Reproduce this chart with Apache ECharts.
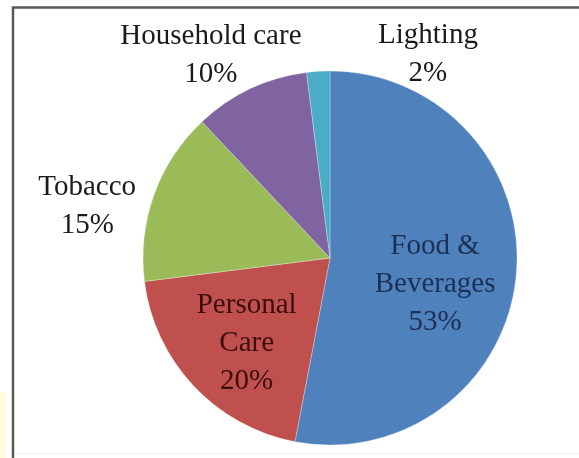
<!DOCTYPE html>
<html>
<head>
<meta charset="UTF-8">
<script src="https://cdn.jsdelivr.net/npm/echarts@6/dist/echarts.min.js"></script>
<style>
  html, body { margin: 0; padding: 0; background: #fff; }
  #chart { width: 579px; height: 458px; }
</style>
</head>
<body>
<div id="chart"></div>
<script>
// shares of spending, clockwise from 12 o'clock
const categories = ['Food &\nBeverages', 'Personal\nCare', 'Tobacco', 'Household care', 'Lighting'];
const shares = [53, 20, 15, 10, 2];
const colors = ['#4F81BD', '#C0504D', '#9BBB59', '#8064A2', '#4BACC6'];

// label look per slice (inside labels are dark tints, outside are black)
const labelLook = {
  'Food &\nBeverages': { color: '#1c2f55', offset: [9, 17] },
  'Personal\nCare': { color: '#3d0c0c', offset: [-13, 19] },
  'Tobacco': { color: '#1a1a1a', offset: [-152, -19] },
  'Household care': { color: '#1a1a1a', offset: [-78, -115] },
  'Lighting': { color: '#1a1a1a', offset: [104, -107] }
};

const chart = echarts.init(document.getElementById('chart'));
chart.setOption({
  animation: false,
  graphic: [
    { type: 'rect', shape: { x: 0, y: 392, width: 6, height: 66 }, style: { fill: '#fffbdc' }, z: -1 },
    { type: 'rect', shape: { x: 13, y: 7.5, width: 600, height: 460 },
      style: { fill: 'none', stroke: '#5a5a5a', lineWidth: 2.5 }, z: -1 },
    { type: 'rect', shape: { x: 15, y: 453, width: 564, height: 1 }, style: { fill: '#eeeeee' }, z: -1 }
  ],
  series: [{
    type: 'pie',
    center: [330, 258],
    radius: 187,
    startAngle: 90,
    clockwise: true,
    avoidLabelOverlap: false,
    labelLine: { show: false },
    itemStyle: { borderColor: 'rgba(255,255,255,0.35)', borderWidth: 0.8 },
    label: {
      position: 'inside',
      fontFamily: 'Liberation Serif',
      fontSize: 29,
      lineHeight: 38,
      align: 'center',
      formatter: p => p.name + '\n' + p.value + '%'
    },
    data: categories.map((name, i) => ({
      name: name,
      value: shares[i],
      itemStyle: { color: colors[i] },
      label: labelLook[name]
    }))
  }]
});
</script>
</body>
</html>
